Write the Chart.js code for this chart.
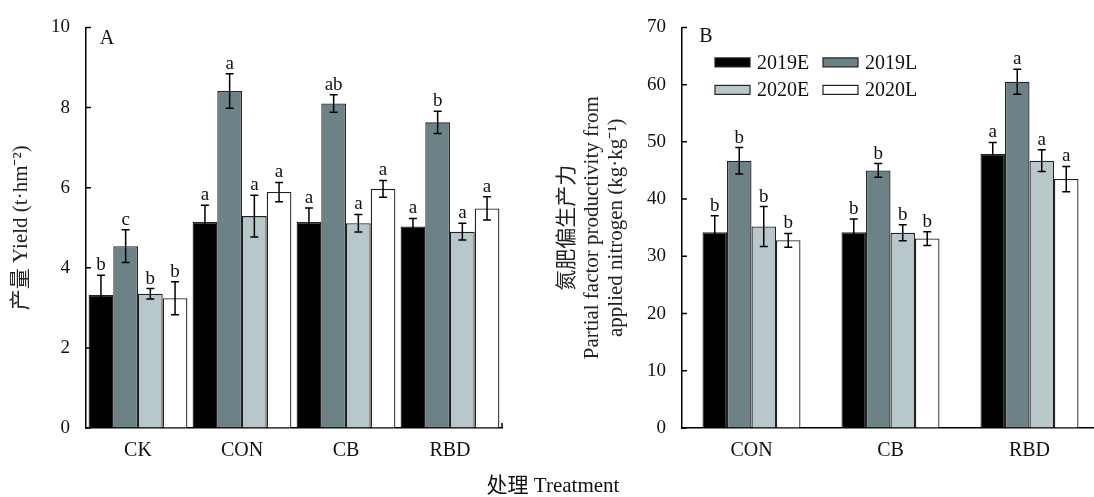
<!DOCTYPE html>
<html>
<head>
<meta charset="utf-8">
<script src="https://cdn.jsdelivr.net/npm/chart.js@4"></script>
<style>
    html, body { margin: 0; padding: 0; background: #fff; overflow: hidden; width: 1094px; height: 497px; }
    #boxA { position: absolute; left: 0; top: 0; }
    #boxB { position: absolute; left: 540px; top: 0; }
    #xtitle {
        position: absolute; left: 443px; width: 220px; top: 473px; line-height: 24px;
        text-align: center; font-size: 21px; color: #111;
        font-family: "Liberation Serif", "Noto Sans CJK SC", serif;
    }
</style>
</head>
<body>
<canvas id="boxA" width="520" height="497"></canvas>
<canvas id="boxB" width="560" height="497"></canvas>
<div id="xtitle">处理 Treatment</div>
<script>
// data
const SERIES = ['2019E', '2019L', '2020E', '2020L']
const COLORS = ['#000000', '#6d8287', '#b8c7ca', '#ffffff']

// panel A: yield
const yieldCats = ['CK', 'CON', 'CB', 'RBD']
const yield2019E = [3.32, 5.14, 5.14, 5.03]
const yield2019L = [4.54, 8.41, 8.10, 7.63]
const yield2020E = [3.35, 5.29, 5.11, 4.90]
const yield2020L = [3.24, 5.89, 5.97, 5.48]
const yieldErr2019E = [0.49, 0.42, 0.35, 0.20]
const yieldErr2019L = [0.41, 0.43, 0.22, 0.28]
const yieldErr2020E = [0.13, 0.52, 0.22, 0.21]
const yieldErr2020L = [0.41, 0.24, 0.21, 0.29]
const yieldSig2019E = ['b', 'a', 'a', 'a']
const yieldSig2019L = ['c', 'a', 'ab', 'b']
const yieldSig2020E = ['b', 'a', 'a', 'a']
const yieldSig2020L = ['b', 'a', 'a', 'a']

// panel B: partial factor productivity of N
const pfpCats = ['CON', 'CB', 'RBD']
const pfp2019E = [34.2, 34.2, 47.9]
const pfp2019L = [46.7, 45.0, 60.5]
const pfp2020E = [35.2, 34.1, 46.7]
const pfp2020L = [32.8, 33.1, 43.5]
const pfpErr2019E = [2.9, 2.3, 2.0]
const pfpErr2019L = [2.3, 1.2, 2.2]
const pfpErr2020E = [3.5, 1.4, 1.9]
const pfpErr2020L = [1.2, 1.2, 2.2]
const pfpSig2019E = ['b', 'b', 'a']
const pfpSig2019L = ['b', 'b', 'a']
const pfpSig2020E = ['b', 'b', 'a']
const pfpSig2020L = ['b', 'b', 'a']

const SERIF = '"Liberation Serif", "Noto Sans CJK SC", serif'
Chart.defaults.font.family = SERIF
Chart.defaults.color = '#111'

// error bars + significance letters on top of each bar
const errorBars = {
    id: 'errorBars',
    afterDatasetsDraw(chart) {
        var ctx = chart.ctx
        var y = chart.scales.y
        chart.data.datasets.forEach(function(ds, i) {
            var meta = chart.getDatasetMeta(i)
            meta.data.forEach(function(bar, j) {
                var v = ds.data[j], e = ds.errors[j]
                var yTop = y.getPixelForValue(v + e)
                var yBot = y.getPixelForValue(v - e)
                ctx.save()
                ctx.strokeStyle = '#000'
                ctx.lineWidth = 1.5
                ctx.beginPath()
                ctx.moveTo(bar.x, yTop); ctx.lineTo(bar.x, yBot)
                ctx.moveTo(bar.x - 4, yTop); ctx.lineTo(bar.x + 4, yTop)
                ctx.moveTo(bar.x - 4, yBot); ctx.lineTo(bar.x + 4, yBot)
                ctx.stroke()
                ctx.fillStyle = '#111'
                ctx.font = '19px ' + SERIF
                ctx.textAlign = 'center'
                ctx.textBaseline = 'alphabetic'
                ctx.fillText(ds.letters[j], bar.x, yTop - 5)
                ctx.restore()
            })
        })
    }
}

// inward ticks, panel letter and the boxed legend
const decorations = {
    id: 'decorations',
    afterDraw(chart, args, opts) {
        var ctx = chart.ctx
        var area = chart.chartArea
        var y = chart.scales.y
        ctx.save()
        ctx.strokeStyle = '#000'
        ctx.lineWidth = 1.5
        ctx.beginPath()
        y.ticks.forEach(function(t) {
            var py = y.getPixelForValue(t.value)
            ctx.moveTo(area.left, py)
            ctx.lineTo(area.left + 5, py)
        })
        if (opts.endTick) {
            ctx.moveTo(area.right, area.bottom)
            ctx.lineTo(area.right, area.bottom - 5)
        }
        ctx.stroke()

        ctx.fillStyle = '#111'
        ctx.font = '20px ' + SERIF
        ctx.textAlign = 'center'
        ctx.textBaseline = 'middle'
        ctx.fillText(opts.panel, area.left + opts.panelDx, area.top + opts.panelDy)

        if (opts.legend) {
            ctx.textAlign = 'left'
            chart.data.datasets.forEach(function(ds, i) {
                var x = area.left + 33 + (i % 2) * 108
                var yy = area.top + 35 + Math.floor(i / 2) * 27.5
                ctx.fillStyle = ds.backgroundColor
                ctx.fillRect(x, yy - 4.5, 35, 9)
                ctx.strokeStyle = '#222'
                ctx.lineWidth = 1.2
                ctx.strokeRect(x, yy - 4.5, 35, 9)
                ctx.fillStyle = '#111'
                ctx.fillText(ds.label, x + 42, yy + 1)
            })
        }
        ctx.restore()
    }
}

function makeDatasets(values, errors, letters) {
    return SERIES.map(function(name, i) {
        return {
            label: name,
            data: values[i],
            errors: errors[i],
            letters: letters[i],
            backgroundColor: COLORS[i],
            borderColor: '#222',
            borderWidth: 1.3,
            barPercentage: 1.0,
        }
    })
}

function makeChart(canvasId, cats, datasets, o) {
    return new Chart(document.getElementById(canvasId), {
        type: 'bar',
        data: { labels: cats, datasets: datasets },
        plugins: [errorBars, decorations],
        options: {
            responsive: false,
            animation: false,
            datasets: { bar: { categoryPercentage: o.catPct } },
            layout: { padding: { top: 20, right: o.padRight, left: 0, bottom: 0 } },
            plugins: {
                legend: { display: false },
                tooltip: { enabled: false },
                decorations: o.deco,
            },
            scales: {
                x: {
                    grid: { display: true, drawOnChartArea: false, drawTicks: false },
                    border: { color: '#000', width: 1.5 },
                    ticks: { padding: 11, font: { size: 20 }, color: '#111' },
                    afterFit: function(s) { s.height = 69 },
                },
                y: {
                    min: 0, max: o.yMax,
                    grid: { display: true, drawOnChartArea: false, drawTicks: false },
                    border: { color: '#000', width: 1.5 },
                    ticks: { stepSize: o.step, padding: 16, font: { size: 19 }, color: '#111' },
                    title: {
                        display: true,
                        text: o.title,
                        color: '#222',
                        font: { size: 21, lineHeight: o.titleLH },
                        padding: { top: o.titlePad, bottom: 0 },
                    },
                    afterFit: function(s) { s.width = o.yWidth },
                },
            },
        },
    })
}

makeChart('boxA', yieldCats,
    makeDatasets([yield2019E, yield2019L, yield2020E, yield2020L],
        [yieldErr2019E, yieldErr2019L, yieldErr2020E, yieldErr2020L],
        [yieldSig2019E, yieldSig2019L, yieldSig2020E, yieldSig2020L]),
    {
        catPct: 0.95, padRight: 18, yMax: 10, step: 2, yWidth: 86,
        title: '产量 Yield (t·hm⁻²)', titleLH: 1.2, titlePad: 8.4,
        deco: { panel: 'A', panelDx: 21, panelDy: 11, legend: false, endTick: true },
    })

makeChart('boxB', pfpCats,
    makeDatasets([pfp2019E, pfp2019L, pfp2020E, pfp2020L],
        [pfpErr2019E, pfpErr2019L, pfpErr2020E, pfpErr2020L],
        [pfpSig2019E, pfpSig2019L, pfpSig2020E, pfpSig2020L]),
    {
        catPct: 0.705, padRight: 1, yMax: 70, step: 10, yWidth: 142,
        title: ['氮肥偏生产力', 'Partial factor productivity from', 'applied nitrogen (kg·kg⁻¹)'],
        titleLH: 1.19, titlePad: 14.5,
        deco: { panel: 'B', panelDx: 24, panelDy: 9, legend: true, endTick: false },
    })
</script>
</body>
</html>
